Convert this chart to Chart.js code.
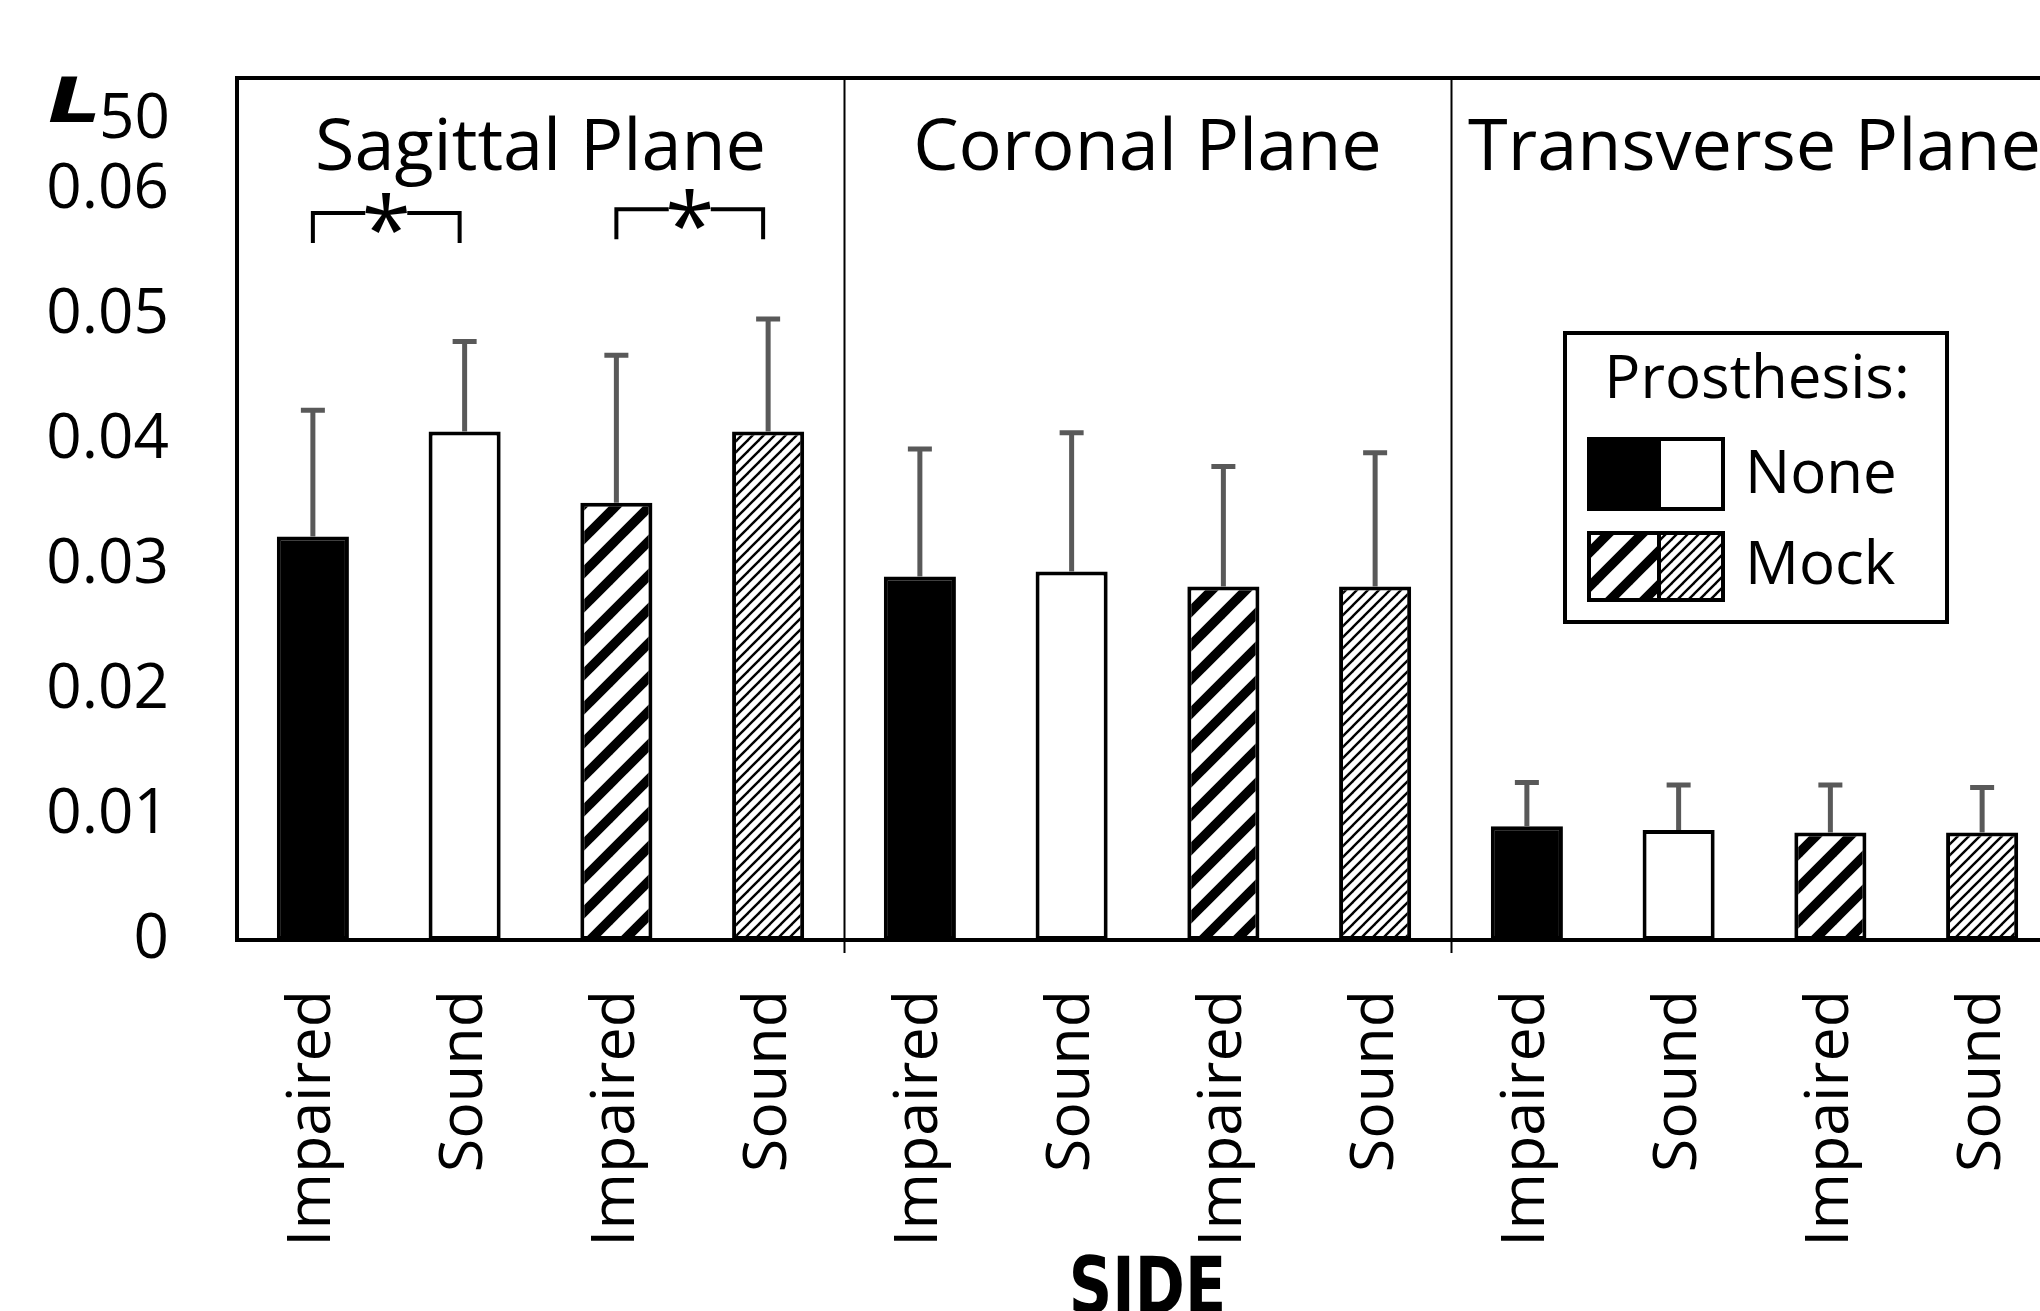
<!DOCTYPE html>
<html>
<head>
<meta charset="utf-8">
<script src="https://cdn.jsdelivr.net/npm/chart.js@4.4.1/dist/chart.umd.min.js"></script>
<style>
  html, body { margin: 0; padding: 0; background: #fff; overflow: hidden; }
  canvas { display: block; }
</style>
</head>
<body>
<canvas id="l50Chart" width="2060" height="1345"></canvas>
<script>
// Data
const planes = ['Sagittal Plane', 'Coronal Plane', 'Transverse Plane'];
const sides = ['Impaired', 'Sound', 'Impaired', 'Sound'];
const prosthesis = ['None', 'None', 'Mock', 'Mock'];
const sagittal = [0.0323, 0.0407, 0.0350, 0.0407];
const coronal = [0.0291, 0.0295, 0.0283, 0.0283];
const transverse = [0.0091, 0.0088, 0.0086, 0.0086];
const sagittalErr = [0.0101, 0.0072, 0.0118, 0.0090];
const coronalErr = [0.0102, 0.0111, 0.0096, 0.0107];
const transverseErr = [0.0035, 0.0036, 0.0038, 0.0036];
const yTickLabels = ['0', '0.01', '0.02', '0.03', '0.04', '0.05', '0.06'];
// significance brackets: bar indexes and height (L50 units)
const brackets = [
    { from: 0, to: 1, at: 0.0582, label: '*' },
    { from: 2, to: 3, at: 0.0585, label: '*' }
];

const labels = [...sides, ...sides, ...sides];
const values = [...sagittal, ...coronal, ...transverse];
const errors = [...sagittalErr, ...coronalErr, ...transverseErr];
const kinds = [...prosthesis, ...prosthesis, ...prosthesis];

const canvas = document.getElementById('l50Chart');
const ctx = canvas.getContext('2d');
const FONT = "'Open Sans', 'Noto Sans', sans-serif";

function hatch(size, width, color) {
    const c = document.createElement('canvas');
    c.width = c.height = size;
    const g = c.getContext('2d');
    g.fillStyle = '#fff';
    g.fillRect(0, 0, size, size);
    g.strokeStyle = color;
    g.lineWidth = width;
    [-size, 0, size].forEach(o => {
        g.beginPath();
        g.moveTo(o - size, 2 * size);
        g.lineTo(o + 2 * size, -size);
        g.stroke();
    });
    return ctx.createPattern(c, 'repeat');
}

const wide = hatch(34, 9.5, '#000');
const fine = hatch(11, 2.4, '#000');
const fills = kinds.map((k, i) => {
    const impaired = labels[i] === 'Impaired';
    if (k === 'None') return impaired ? '#000' : '#fff';
    return impaired ? wide : fine;
});

// error bars, plane titles, brackets, frame and legend
const decorations = {
    id: 'decorations',
    afterDatasetsDraw(chart) {
        const c = chart.ctx;
        const y = chart.scales.y;
        const meta = chart.getDatasetMeta(0);
        c.save();
        c.strokeStyle = '#595959';
        c.lineWidth = 5;
        meta.data.forEach((bar, i) => {
            const top = y.getPixelForValue(values[i] + errors[i]);
            c.beginPath();
            c.moveTo(bar.x, bar.y);
            c.lineTo(bar.x, top);
            c.moveTo(bar.x - 12, top);
            c.lineTo(bar.x + 12, top);
            c.stroke();
        });
        c.restore();
    },
    afterDraw(chart) {
        const c = chart.ctx;
        const x = chart.scales.x;
        const y = chart.scales.y;
        const area = chart.chartArea;
        c.save();

        // frame
        c.strokeStyle = '#000';
        c.lineWidth = 4;
        c.beginPath();
        c.moveTo(area.left - 2, area.top);
        c.lineTo(area.right, area.top);
        c.lineTo(area.right, area.bottom);
        c.stroke();

        // plane dividers
        c.lineWidth = 2;
        [3.5, 7.5].forEach(v => {
            const px = Math.round(x.getPixelForValue(v)) + 0.5;
            c.beginPath();
            c.moveTo(px, area.top + 2);
            c.lineTo(px, area.bottom + 13);
            c.stroke();
        });

        // plane titles
        c.fillStyle = '#000';
        c.font = '72px ' + FONT;
        c.textAlign = 'center';
        c.textBaseline = 'alphabetic';
        planes.forEach((p, i) => {
            c.fillText(p, x.getPixelForValue(i * 4 + 1.5), 170);
        });

        // significance brackets
        c.lineWidth = 4;
        c.font = '90px ' + FONT;
        brackets.forEach(b => {
            const x1 = x.getPixelForValue(b.from);
            const x2 = x.getPixelForValue(b.to) - 5;
            const yt = y.getPixelForValue(b.at);
            const yb = y.getPixelForValue(b.at - 0.0024);
            const mid = (x1 + x2) / 2;
            c.beginPath();
            c.moveTo(x1, yb);
            c.lineTo(x1, yt);
            c.lineTo(mid - 21, yt);
            c.moveTo(mid + 21, yt);
            c.lineTo(x2, yt);
            c.lineTo(x2, yb);
            c.stroke();
            const m = c.measureText(b.label);
            const h = m.actualBoundingBoxAscent - m.actualBoundingBoxDescent;
            c.fillText(b.label, mid, yt + h / 2);
        });

        // y axis title L50
        c.textAlign = 'left';
        c.save();
        c.translate(48, 122);
        c.scale(1.35, 1);
        c.font = "oblique bold 62px 'DejaVu Sans', sans-serif";
        c.fillText('L', 0, 0);
        c.restore();
        c.font = '62px ' + FONT;
        c.fillText('50', 99, 138);

        // x axis title (condensed)
        c.save();
        c.translate((area.left + area.right) / 2, 1313);
        c.scale(0.86, 1);
        c.textAlign = 'center';
        c.font = "bold 78px 'Liberation Sans Narrow', 'DejaVu Sans Condensed', sans-serif";
        c.fillText('SIDE', 0, 0);
        c.restore();

        // legend
        const L = { x: 1565, y: 333, w: 382, h: 289 };
        c.lineWidth = 4;
        c.fillStyle = '#fff';
        c.fillRect(L.x, L.y, L.w, L.h);
        c.strokeRect(L.x, L.y, L.w, L.h);
        c.fillStyle = '#000';
        c.textAlign = 'center';
        c.font = '60px ' + FONT;
        c.fillText('Prosthesis:', L.x + L.w / 2 + 1, 398);
        const sw = { x: 1589, w: 134, mid: 1659 };
        [['None', 439, 70, '#000', '#fff'], ['Mock', 533, 67, wide, fine]].forEach(([name, top, h, a, b]) => {
            c.fillStyle = a;
            c.fillRect(sw.x, top, sw.mid - sw.x, h);
            c.fillStyle = b;
            c.fillRect(sw.mid, top, sw.x + sw.w - sw.mid, h);
            c.strokeRect(sw.x, top, sw.w, h);
            c.beginPath();
            c.moveTo(sw.mid, top);
            c.lineTo(sw.mid, top + h);
            c.stroke();
            c.fillStyle = '#000';
            c.textAlign = 'left';
            c.fillText(name, 1745, top + h - 16);
        });
        c.restore();
    }
};

function noScalePadding(scale) {
    scale.paddingTop = 0;
    scale.paddingBottom = 0;
    scale.paddingLeft = 0;
    scale.paddingRight = 0;
}

Chart.defaults.font.family = FONT;
Chart.defaults.color = '#000';

new Chart(ctx, {
    type: 'bar',
    data: {
        labels: labels,
        datasets: [{
            data: values,
            backgroundColor: fills,
            borderColor: '#000',
            borderWidth: 4,
            borderSkipped: false,
            barPercentage: 0.475,
            categoryPercentage: 1.0
        }]
    },
    options: {
        responsive: false,
        animation: false,
        devicePixelRatio: 1,
        layout: {
            padding: { top: 78, right: 2, left: 0, bottom: 0 }
        },
        plugins: {
            legend: { display: false },
            tooltip: { enabled: false }
        },
        scales: {
            x: {
                grid: { display: false, drawTicks: false },
                border: { display: true, color: '#000', width: 4 },
                ticks: {
                    autoSkip: false,
                    minRotation: 90,
                    maxRotation: 90,
                    padding: 50,
                    color: '#000',
                    font: { size: 61 }
                },
                afterFit(scale) {
                    scale.height = 1345 - 940;
                    noScalePadding(scale);
                }
            },
            y: {
                min: 0,
                max: 0.069,
                grid: { display: false, drawTicks: false },
                border: { display: true, color: '#000', width: 4 },
                ticks: {
                    stepSize: 0.01,
                    includeBounds: false,
                    padding: 68,
                    color: '#000',
                    font: { size: 62 },
                    callback: (value, index) => yTickLabels[index]
                },
                afterFit(scale) {
                    scale.width = 237;
                    noScalePadding(scale);
                }
            }
        }
    },
    plugins: [decorations]
});
</script>
</body>
</html>
